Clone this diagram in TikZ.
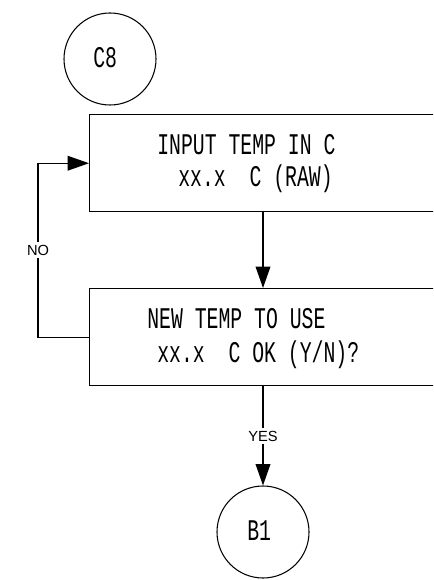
\documentclass[tikz,border=0pt]{standalone}
\usepackage{fontspec}
\usetikzlibrary{arrows.meta}
\newfontfamily\lcdfont[FakeStretch=0.66]{Liberation Mono}
\newfontfamily\tagfont{Liberation Sans}

\begin{document}
\begin{tikzpicture}[x=0.75pt,y=-0.75pt,
  stepbox/.style={draw,line width=1.1pt,minimum width=380*0.75pt,minimum height=97*0.75pt,inner sep=0pt},
  connector/.style={draw,circle,line width=0.8pt,minimum size=92*0.75pt,inner sep=0pt},
  lcd/.style={anchor=base west,inner sep=0pt,font=\lcdfont\fontsize{22.5pt}{26pt}\selectfont},
  flow/.style={line width=1pt,-{Triangle[length=16pt,width=11pt]}},
  tag/.style={fill=white,inner sep=2pt,font=\tagfont\fontsize{11pt}{13pt}\selectfont}]
  \useasboundingbox (0,0) rectangle (433,580);
  \clip (0,0) rectangle (433,580);
  \node[connector] (c8) at (110,59) {};
  \node[lcd] (c8text) at (93,68) {C8};
  \node[stepbox,anchor=north west] (box1) at (89,114) {};
  \node[lcd] (in1) at (157,155) {INPUT TEMP IN C};
  \node[lcd] (in2) at (178,187) {xx.x\ \ C (RAW)};
  \node[stepbox,anchor=north west] (box2) at (89,288) {};
  \node[lcd] (use1) at (147,328) {NEW TEMP TO USE};
  \node[lcd] (use2) at (157,362) {xx.x\ \ C OK (Y/N)?};
  \node[connector] (b1) at (263,532) {};
  \node[lcd] (b1text) at (247,540) {B1};
  \draw[flow] (box1.south -| b1) -- (box2.north -| b1);
  \draw[flow] (box2.west) -- ++(-51,0) coordinate (bend) |- node[pos=0.25,tag] {NO} (box1.west);
  \draw[flow] (box2.south -| b1) -- node[tag] {YES} (b1.north);
\end{tikzpicture}
\end{document}
